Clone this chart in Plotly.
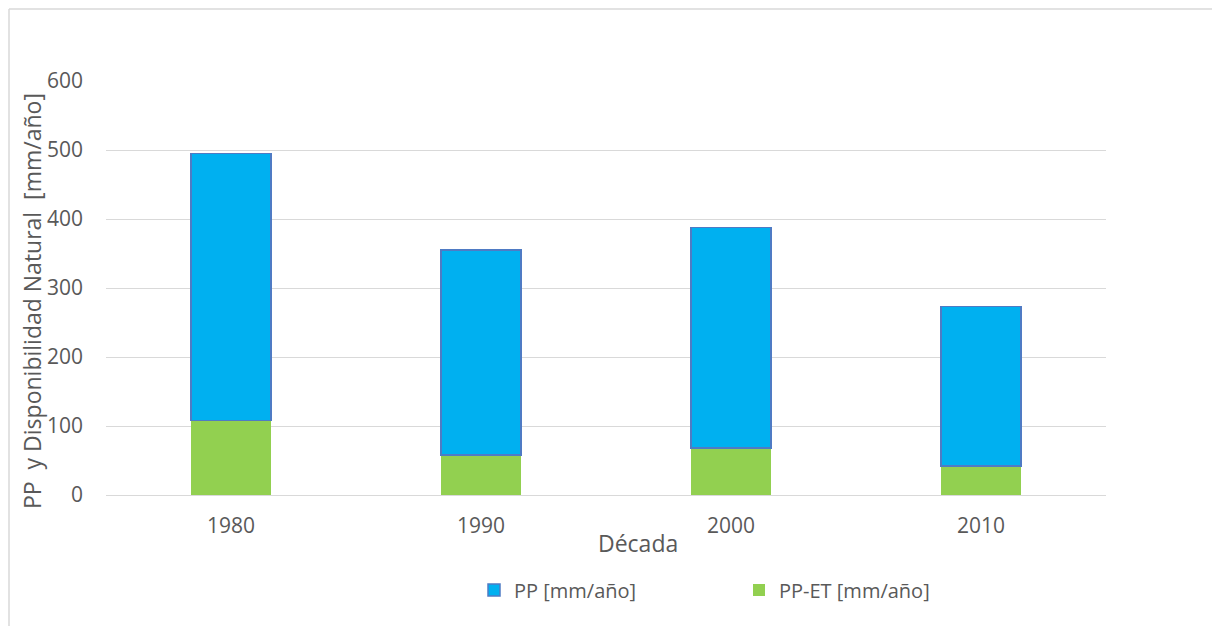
import plotly.graph_objects as go

decades = ["1980", "1990", "2000", "2010"]
pp_et = [108, 58, 68, 42]          # PP-ET [mm/año] (green, bottom)
pp_seg = [387, 297, 320, 231]      # PP [mm/año] (blue, stacked on top)
y_ticks = [0, 100, 200, 300, 400, 500, 600]

TXT = "#595959"
GRID = "#D9D9D9"
FONT = "Open Sans"

fig = go.Figure()
fig.add_trace(go.Bar(
    x=decades, y=pp_et, name="PP-ET [mm/año]",
    marker=dict(color="#92D050", line=dict(width=0)),
    width=0.32, legendrank=2,
))
fig.add_trace(go.Bar(
    x=decades, y=pp_seg, name="PP [mm/año]",
    marker=dict(color="#00B0F0", line=dict(color="#4F7BC4", width=1.5)),
    width=0.32, legendrank=1,
))

# page has an 8px body margin, so work in figure coords = reference - 8
OFF = 8
W, H = 1220 - OFF, 626 - OFF
L, T = 106 - OFF, 81 - OFF
R = W - (1106 - OFF)
B = H - (495 - OFF)
pw, ph = W - L - R, H - T - B

def px(x):
    return (x - OFF - L) / pw

def py(y):
    return (H - B - (y - OFF)) / ph

fig.update_layout(
    width=W, height=H,
    margin=dict(l=L, r=R, t=T, b=B, pad=0),
    barmode="stack",
    paper_bgcolor="white", plot_bgcolor="white",
    font=dict(family=FONT, color=TXT, size=20),
    showlegend=True,
    legend=dict(
        orientation="h", x=px(474), xanchor="left", y=py(590), yanchor="middle",
        entrywidth=220, entrywidthmode="pixels",
        font=dict(family=FONT, size=20, color=TXT),
        bgcolor="rgba(0,0,0,0)", traceorder="normal",
        itemclick=False,
    ),
    xaxis=dict(
        type="category", showgrid=False, showline=True, linecolor=GRID, linewidth=1,
        ticks="", tickfont=dict(family=FONT, size=21, color=TXT),
        ticklabelstandoff=12, fixedrange=True,
    ),
    yaxis=dict(
        range=[0, 600], tickvals=y_ticks, showgrid=True, gridcolor=GRID, gridwidth=1,
        zeroline=False, showline=False, ticks="",
        tickfont=dict(family=FONT, size=21, color=TXT),
        ticklabelstandoff=22, fixedrange=True,
    ),
    annotations=[
        dict(text="PP  y Disponibilidad Natural  [mm/año]", textangle=-90,
             xref="paper", yref="paper", x=px(32), y=py(301),
             xanchor="center", yanchor="middle", showarrow=False,
             font=dict(family=FONT, size=23, color=TXT)),
        dict(text="Década", xref="paper", yref="paper", x=px(638), y=py(543),
             xanchor="center", yanchor="middle", showarrow=False,
             font=dict(family=FONT, size=23, color=TXT)),
    ],
    shapes=[
        dict(type="line", xref="paper", yref="paper", x0=px(9), x1=px(1230),
             y0=py(9), y1=py(9), line=dict(color=GRID, width=1.5)),
        dict(type="line", xref="paper", yref="paper", x0=px(9), x1=px(9),
             y0=py(9), y1=py(640), line=dict(color=GRID, width=1.5)),
    ],
)

fig.write_html("out.html")
